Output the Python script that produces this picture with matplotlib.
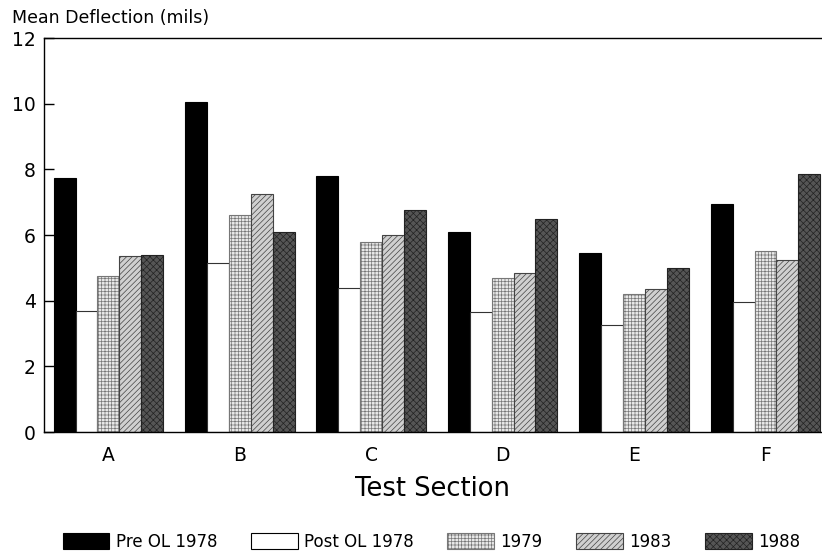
import matplotlib
matplotlib.use("Agg")
import matplotlib.pyplot as plt
import numpy as np
from matplotlib.patches import Patch

plt.rcParams['font.family'] = ['DejaVu Sans']
plt.rcParams['hatch.linewidth'] = 0.5

sections = ["A", "B", "C", "D", "E", "F"]
series_names = ["Pre OL 1978", "Post OL 1978", "1979", "1983", "1988"]
pre_ol_1978 = [7.75, 10.05, 7.8, 6.1, 5.45, 6.95]
post_ol_1978 = [3.7, 5.15, 4.4, 3.65, 3.25, 3.95]
y1979 = [4.75, 6.6, 5.8, 4.7, 4.2, 5.5]
y1983 = [5.35, 7.25, 6.0, 4.85, 4.35, 5.25]
y1988 = [5.4, 6.1, 6.75, 6.5, 5.0, 7.85]
yticks = [0, 2, 4, 6, 8, 10, 12]

series = [pre_ol_1978, post_ol_1978, y1979, y1983, y1988]
styles = [
    dict(facecolor="black", edgecolor="black", hatch=None),
    dict(facecolor="white", edgecolor="#333333", hatch=None),
    dict(facecolor="#e8e8e8", edgecolor="#777777", hatch="+++++"),
    dict(facecolor="#d0d0d0", edgecolor="#444444", hatch="//////"),
    dict(facecolor="#555555", edgecolor="#222222", hatch="xxxxx"),
]

fig = plt.figure(figsize=(8.22, 5.54), dpi=100)
ax = fig.add_axes([0.0535, 0.2202, 0.9465, 0.7112])

x = np.arange(len(sections))
w = 1/6
for i, (vals, st) in enumerate(zip(series, styles)):
    ax.bar(x + (i - 2) * w, vals, width=w, facecolor=st["facecolor"],
           edgecolor=st["edgecolor"], hatch=st["hatch"], linewidth=0.8)

ax.set_xlim(-0.49, 5.43)
ax.set_ylim(0, 12)
ax.set_yticks(yticks)
ax.set_yticklabels([str(t) for t in yticks], fontsize=13.5)
ax.set_xticks(x)
ax.set_xticklabels(sections, fontsize=13.5)
ax.tick_params(axis="x", length=0, pad=10)
ax.tick_params(axis="y", direction="in", length=7, width=1, pad=6)
ax.spines["right"].set_visible(False)
for s in ["left", "top", "bottom"]:
    ax.spines[s].set_linewidth(1)

ax.set_xlabel("Test Section", fontsize=18.5, labelpad=8)
fig.text(0.015, 0.952, "Mean Deflection (mils)", fontsize=12.5, ha="left", va="bottom")

handles = [Patch(facecolor=st["facecolor"], edgecolor=st["edgecolor"] if st["hatch"] else "black",
                 hatch=st["hatch"], linewidth=0.8) for st in styles]
fig.legend(handles, series_names, loc="center", bbox_to_anchor=(0.525, 0.022), ncol=5,
           frameon=False, fontsize=12, handlelength=2.8, handleheight=1.1,
           columnspacing=2.0, handletextpad=0.4)

fig.savefig("out.png", dpi=100)
